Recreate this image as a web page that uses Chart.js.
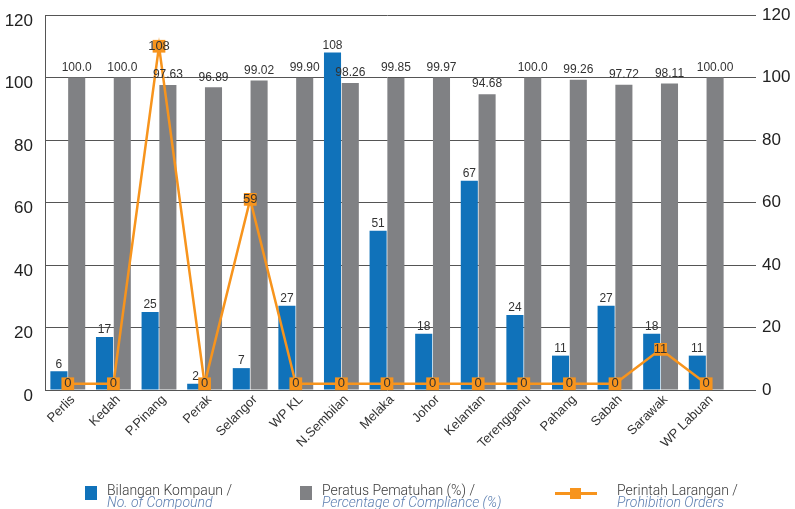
<!DOCTYPE html>
<html>
<head>
<meta charset="utf-8">
<script src="https://cdn.jsdelivr.net/npm/chart.js@4.4.1/dist/chart.umd.min.js"></script>
<style>
  html, body { margin: 0; padding: 0; background: #fff; }
  #wrap { position: relative; width: 795px; height: 509px; overflow: hidden; }
  canvas { position: absolute; left: 0; top: 0; }
  .lg { position: absolute; font-family: Roboto, "Liberation Sans", sans-serif; font-size: 14px; line-height: 12px; color: #3a3a3a; font-weight: 300; white-space: nowrap; }
  .lg i { color: #5b7eb0; display: block; }
  .sw { position: absolute; }
</style>
</head>
<body>
<div id="wrap">
  <canvas id="c" width="795" height="509"></canvas>
  <div class="sw" style="left:85px;top:486px;width:12px;height:14px;background:#1072BA"></div>
  <div class="lg" style="left:107px;top:484px">Bilangan Kompaun /<i>No. of Compound</i></div>
  <div class="sw" style="left:300px;top:486px;width:12px;height:14px;background:#808184"></div>
  <div class="lg" style="left:322px;top:484px">Peratus Pematuhan (%) /<i>Percentage of Compliance (%)</i></div>
  <div class="sw" style="left:555px;top:492px;width:42px;height:3px;background:#F7941D"></div>
  <div class="sw" style="left:570px;top:488px;width:11px;height:11px;background:#F7941D"></div>
  <div class="lg" style="left:617px;top:484px">Perintah Larangan /<i>Prohibition Orders</i></div>
</div>
<script>
const states = ["Perlis","Kedah","P.Pinang","Perak","Selangor","WP KL","N.Sembilan","Melaka","Johor","Kelantan","Terengganu","Pahang","Sabah","Sarawak","WP Labuan"];
const compound = [6,17,25,2,7,27,108,51,18,67,24,11,27,18,11];
const compliance = [100.0,100.0,97.63,96.89,99.02,99.90,98.26,99.85,99.97,94.68,100.0,99.26,97.72,98.11,100.00];
const complianceText = ["100.0","100.0","97.63","96.89","99.02","99.90","98.26","99.85","99.97","94.68","100.0","99.26","97.72","98.11","100.00"];
const prohibition = [0,0,108,0,59,0,0,0,0,0,0,0,0,11,0];
const yTicks = [0,20,40,60,80,100,120];

const BLUE = "#1072BA", GRAY = "#808184", ORANGE = "#F7941D";

const labelPlugin = {
  id: "valueLabels",
  afterDatasetsDraw(chart) {
    const ctx = chart.ctx;
    ctx.save();
    ctx.textAlign = "center";
    ctx.textBaseline = "middle";
    ctx.fillStyle = "#333";
    ctx.font = "12px 'Liberation Sans', Arial, sans-serif";
    chart.getDatasetMeta(0).data.forEach((el, i) => {
      ctx.fillText(String(compound[i]), el.x, el.y - 7);
    });
    chart.getDatasetMeta(1).data.forEach((el, i) => {
      ctx.fillText(complianceText[i], el.x, el.y - 10);
    });
    ctx.font = "13px 'Liberation Sans', Arial, sans-serif";
    chart.getDatasetMeta(2).data.forEach((el, i) => {
      ctx.fillText(String(prohibition[i]), el.x, el.y);
    });
    ctx.restore();
  }
};

const tickFont = { family: "'Liberation Sans', Arial, sans-serif", size: 17 };
function noPad(s) { s.paddingTop = 0; s.paddingBottom = 0; s.paddingLeft = 0; s.paddingRight = 0; }

new Chart(document.getElementById("c"), {
  data: {
    labels: states,
    datasets: [
      { type: "bar", label: "Bilangan Kompaun", data: compound, backgroundColor: BLUE, yAxisID: "y", order: 2,
        categoryPercentage: 0.78, barPercentage: 0.96 },
      { type: "bar", label: "Peratus Pematuhan (%)", data: compliance, backgroundColor: GRAY, yAxisID: "y", order: 2,
        categoryPercentage: 0.78, barPercentage: 0.96 },
      { type: "line", label: "Perintah Larangan", data: prohibition, borderColor: ORANGE, backgroundColor: ORANGE,
        borderWidth: 2.5, pointStyle: "rect", pointRadius: 9, pointHoverRadius: 9, pointBorderWidth: 0,
        tension: 0, yAxisID: "y2", order: 0, clip: false }
    ]
  },
  options: {
    responsive: false,
    animation: false,
    layout: { padding: { top: 15, left: 0, right: 0, bottom: 0 } },
    plugins: { legend: { display: false }, tooltip: { enabled: false } },
    scales: {
      x: {
        grid: { display: false, drawTicks: false },
        border: { display: false },
        ticks: { color: "#333", font: { family: "'Liberation Sans', Arial, sans-serif", size: 13 },
          maxRotation: 45, minRotation: 45, autoSkip: false, padding: 2, labelOffset: 5 },
        afterFit(s) { s.height = 119; noPad(s); }
      },
      y: {
        position: "left",
        min: 0, max: 120,
        afterBuildTicks(s) { s.ticks = yTicks.map(v => ({ value: v })); },
        grid: { color: "#555", lineWidth: 1, drawTicks: false },
        border: { display: true, color: "#555", width: 1 },
        ticks: { color: "#222", font: tickFont, padding: 12, labelOffset: 6 },
        afterFit(s) { s.width = 45; noPad(s); }
      },
      y1: {
        position: "right",
        min: 0, max: 120,
        afterBuildTicks(s) { s.ticks = yTicks.map(v => ({ value: v })); },
        grid: { color: "#555", lineWidth: 1, drawOnChartArea: false, drawTicks: true, tickLength: 27 },
        border: { display: false },
        ticks: { color: "#222", font: tickFont, padding: 6 },
        afterFit(s) { s.width = 66; noPad(s); }
      },
      y2: {
        display: false,
        min: -2, max: 118
      }
    }
  },
  plugins: [labelPlugin]
});
</script>
</body>
</html>
